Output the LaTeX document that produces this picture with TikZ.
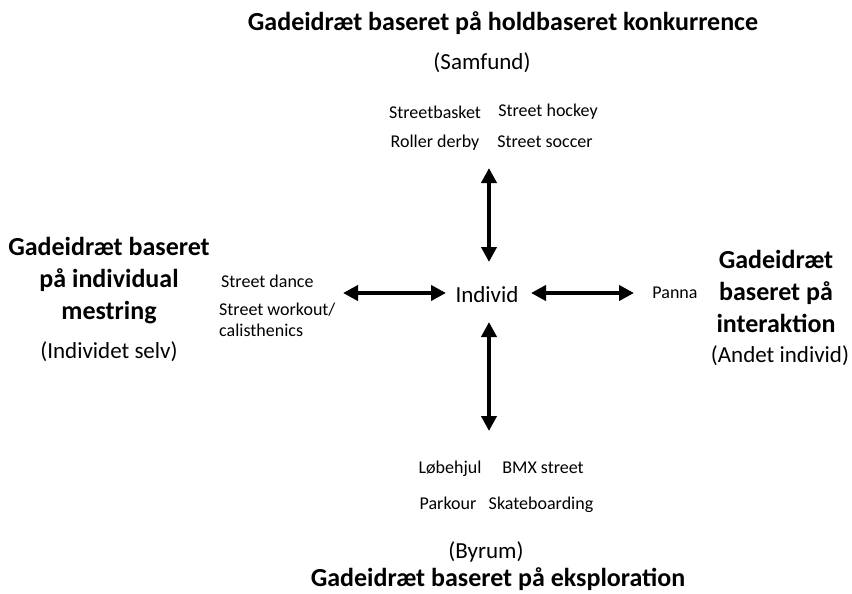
\documentclass[tikz,border=0pt]{standalone}
\usepackage{fontspec}
\setmainfont{Carlito}
\usetikzlibrary{arrows.meta}
\begin{document}
\begin{tikzpicture}[x=1pt,y=-1pt,
  big/.style={font=\fontsize{26}{32}\selectfont\bfseries, align=center, inner sep=0pt, text height=18pt, text depth=5pt},
  mid/.style={font=\fontsize{23}{27}\selectfont, inner sep=0pt, text height=16pt, text depth=5pt},
  small/.style={font=\fontsize{18}{21}\selectfont, inner sep=0pt, text height=13pt, text depth=4pt},
  biarrow/.style={line width=4pt, {Triangle[length=15pt,width=15pt]}-{Triangle[length=15pt,width=15pt]}}]
\useasboundingbox (0,0) rectangle (852,594);
% top
\node[big] (ttop) at (503,24) {Gadeidræt baseret på holdbaseret konkurrence};
\node[mid] (samfund) at (482,64) {(Samfund)};
\node[small] (sbasket) at (435,114) {Streetbasket};
\node[small] (shockey) at (548,112) {Street hockey};
\node[small] (rderby) at (435,143) {Roller derby};
\node[small] (ssoccer) at (545,143) {Street soccer};
% center
\node[mid] (individ) at (487,297) {Individ};
% left
\node[big, text height=, text depth=, font=\fontsize{26}{32}\selectfont\bfseries] (tleft) at (109,281) {Gadeidræt baseret\\på individual\\mestring};
\node[mid] (selv) at (109,353) {(Individet selv)};
\node[small, anchor=west] (sdance) at (221,283) {Street dance};
\node[small, anchor=north west, align=left, text height=, text depth=] (sworkout) at (219,303) {Street workout/\\calisthenics};
% right
\node[small] (panna) at (675,294) {Panna};
\node[big, text height=, text depth=, font=\fontsize{26}{32}\selectfont\bfseries] (tright) at (776,291) {Gadeidræt\\baseret på\\interaktion};
\node[mid] (andet) at (780,357) {(Andet individ)};
% bottom
\node[small] (lobehjul) at (450,469) {Løbehjul};
\node[small] (bmx) at (543,469) {BMX street};
\node[small] (parkour) at (448,505) {Parkour};
\node[small] (skate) at (541,505) {Skateboarding};
\node[mid] (byrum) at (486,553) {(Byrum)};
\node[big] (tbottom) at (498,580) {Gadeidræt baseret på eksploration};
% arrow ends
\coordinate (uT) at (489,168);
\coordinate (uB) at (489,262);
\coordinate (dT) at (489,322);
\coordinate (dB) at (489,431);
\coordinate (lL) at (343,293);
\coordinate (lR) at (446,293);
\coordinate (rL) at (531,293);
\coordinate (rR) at (634,293);
\draw[biarrow] (uT) -- (uB);
\draw[biarrow] (dT) -- (dB);
\draw[biarrow] (lL) -- (lR);
\draw[biarrow] (rL) -- (rR);
\end{tikzpicture}
\end{document}
